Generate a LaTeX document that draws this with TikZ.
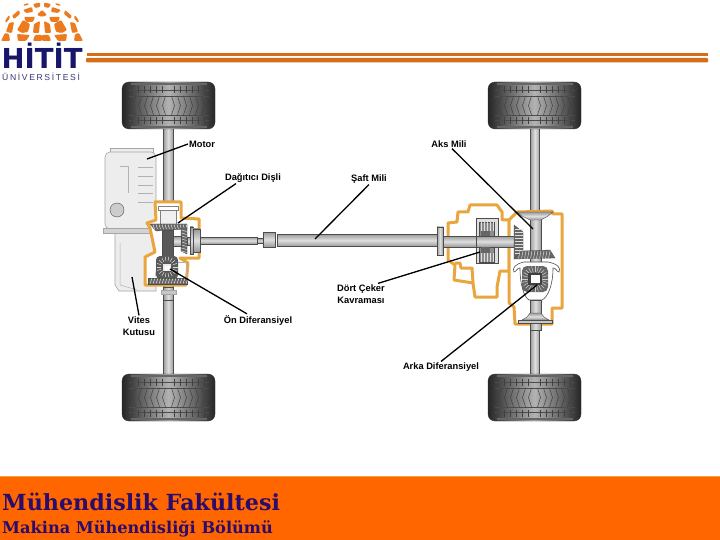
\documentclass[tikz,border=0pt]{standalone}
\usepackage{fontspec}
\newfontfamily\labfont{Liberation Sans}
\newfontfamily\logofont{DejaVu Sans}
\newfontfamily\footfont{DejaVu Serif}
\newfontfamily\spacedfont[LetterSpace=19]{Liberation Sans}
\usepackage{tikz}
\usetikzlibrary{calc}
\definecolor{housingcol}{HTML}{E9A63F}
\definecolor{logocol}{HTML}{EC7A1E}
\definecolor{navycol}{HTML}{17166B}
\definecolor{footcol}{HTML}{FF6600}
\definecolor{foottext}{HTML}{2B0B6B}
\begin{document}
\begin{tikzpicture}[x=1pt,y=-1pt,
   tire/.style={rounded corners=7pt,minimum width=93pt,minimum height=47pt,inner sep=0pt,draw=gray!40!black,left color=black!85,right color=black!85,middle color=black!30},
   lab/.style={font=\labfont\bfseries\fontsize{9.3}{12}\selectfont,align=center,inner sep=1pt},
   leader/.style={line width=1.3pt,black},
   housing/.style={draw=housingcol,line width=3pt,fill=white,line join=round},
   axle/.style={draw=gray!60!black,line width=.4pt,left color=gray!75,right color=gray!75,middle color=gray!25},
   shaft/.style={draw=gray!60!black,line width=.4pt,top color=gray!80,bottom color=gray!80,middle color=gray!25},
   body/.style={draw=gray!70,line width=.6pt,fill=gray!14},
   gear/.style={draw=black!70,line width=.3pt,fill=black!60},
   tooth/.style={gray!25,line width=.5pt},
   petal/.style={fill=logocol,rounded corners=1pt}]
  \useasboundingbox (0,0) rectangle (720,540);
  \fill[white] (0,0) rectangle (720,540);
  % logo
  \foreach \mx in {1,-1}{
   \begin{scope}[shift={(42,0)},xscale=\mx]
    \fill[petal] (2,2.5) -- (9,4) -- (7,8) -- (2,7) -- cycle;
    \fill[petal] (10,7) -- (19,10) -- (16,13) -- (9,12) -- cycle;
    \fill[petal] (23,10) -- (30,16) -- (28,19) -- (22,14) -- cycle;
    \fill[petal] (7,17) -- (18,17) -- (16,22) -- (9,22) -- cycle;
    \fill[petal] (0,10) -- (5,15) -- (0,17) -- cycle;
    \fill[petal] (2,21) -- (8,24) -- (9,33) -- (3,33) -- cycle;
    \fill[petal] (12,24) -- (19,20) -- (25,30) -- (20,33) -- (14,32) -- cycle;
    \fill[petal] (28,22) -- (33,23) -- (36,32) -- (30,33) -- cycle;
    \fill[petal] (12,35) -- (25,34) -- (24,41) -- (16,41) -- cycle;
    \fill[petal] (0,35) -- (7,35) -- (9,41) -- (0,41) -- cycle;
    \fill[petal] (33,34) -- (37,33) -- (41,41) -- (32,41) -- cycle;
    \fill[petal] (14,3) -- (19,5) -- (18,6) -- (13,4.5) -- cycle;
    \fill[petal] (33,15) -- (37,21) -- (36,23) -- (32,18) -- cycle;
   \end{scope}}
  \node[font=\logofont\bfseries\fontsize{27.5}{30}\selectfont,text=navycol,inner sep=0pt,anchor=base west] (logoname) at (1.5,69) {HİTİT};
  \node[font=\spacedfont\fontsize{8.6}{10}\selectfont,text=navycol!70!gray,inner sep=0pt,anchor=base west] (logosub) at (2,81) {ÜNİVERSİTESİ};
  \fill[logocol!90!black] (87,53.5) rectangle (708,55.8);
  \fill[logocol!90!black,rounded corners=1pt] (86,58) rectangle (708,62.5);
  % axles and tires
  \draw[axle] (530.5,125) rectangle (539.5,378);
  \draw[axle] (163.5,125) rectangle (173,378);
  \foreach \tx/\ty/\tname in {168.5/105.5/FL,534.5/105.5/RL,168.5/397.5/FR,534.5/397.5/RR}{
   \node[tire] (tire\tname) at (\tx,\ty) {};
   \begin{scope}[shift={(\tx,\ty)}]
    \foreach \ry in {-15,-9.5,9.5,15} \draw[black!70,line width=.4pt] (-40,\ry) -- (40,\ry);
    \foreach \ry in {-21.5,21.5} \draw[black!60,line width=1.6pt] (-38,\ry) -- (38,\ry);
    \foreach \sg in {1,-1}{
     \foreach \dx in {6,12,...,36}{
      \draw[black!75,line width=.5pt] (\sg*\dx-\sg*3,-9.5) -- (\sg*\dx,0) -- (\sg*\dx-\sg*3,9.5);
      \draw[black!75,line width=.5pt] (\sg*\dx,-19) -- (\sg*\dx,-12);
      \draw[black!75,line width=.5pt] (\sg*\dx,12) -- (\sg*\dx,19);
     }}
   \end{scope}
  }
  % engine and gearbox
  \draw[body] (110,148) rectangle (153,153);
  \draw[body,rounded corners=5pt] (105,152) rectangle (156,229);
  \draw[body] (115,232) -- (156,232) -- (156,291) -- (119,291) -- (115,285) -- cycle;
  \draw[body,fill=gray!35] (103,228) rectangle (156,233);
  \foreach \ky in {167,176,185,193,202} \draw[gray!60,line width=.5pt] (138,\ky) -- (153,\ky);
  \draw[gray!60,line width=.5pt] (120,166) -- (128,166) -- (128,193);
  \draw[gray!60!black,fill=gray!40] (117,210) circle (7);
  \draw[gray!60,line width=.5pt] (120,243) -- (120,285) -- (137,290);
  % propeller shaft
  \draw[shaft] (200,237) rectangle (257,244);
  \draw[shaft] (257,238.5) rectangle (263,243);
  \draw[shaft] (263,232) rectangle (275,247);
  \draw[shaft] (277,234) rectangle (438,246.5);
  % front housing
  \draw[housing] (155,202) -- (181,202) -- (181,218) -- (199,219) -- (199,258) -- (180,258) -- (188,263) -- (186,285) -- (145,285) -- (145,257) -- (155,252) -- (150,228) -- (147,223) -- (156,220) -- cycle;
  \draw[axle] (163.5,287) rectangle (173,300);
  \draw[body,fill=gray!45] (161,290) rectangle (176,294);
  \draw[body,fill=white,draw=gray] (158,206) rectangle (178,210);
  \draw[body,fill=gray!12,draw=gray] (160,210) rectangle (176,224);
  \draw[gear,fill=black!65] (162,230) rectangle (173,258);
  \draw[gear] (150,224) -- (187,224) -- (187,229) -- (156,231) -- cycle;
  \foreach \gx in {153,156,...,186} \draw[tooth] (\gx,224.5) -- (\gx+1.5,229);
  \draw[gear] (181,228) -- (187,228) -- (187,254) -- (181,251) -- cycle;
  \foreach \gy in {230,233,...,251} \draw[tooth] (181.5,\gy) -- (186.5,\gy+1.5);
  \draw[shaft] (173,236) rectangle (181,246);
  \draw[shaft] (187,237) rectangle (190,245);
  \draw[shaft] (190,227) rectangle (193,254);
  \draw[shaft] (193,229) rectangle (200,252);
  \draw[gray!60,line width=.5pt] (157,265) -- (155,277);
  \draw[gray!60,line width=.5pt] (176,262) -- (186,262) -- (186,278);
  \fill[black!65,rounded corners=4pt] (156,256) rectangle (178,279);
  \foreach \da in {0,20,...,340} \draw[gray!30,line width=.5pt] ($(167,267)+(\da:6)$) -- ($(167,267)+(\da:10.5)$);
  \fill[gray!15] (163,264) rectangle (171,271);
  \fill[white] (165,265.5) rectangle (169.5,270);
  \draw[gear] (148,278) rectangle (187,284);
  \foreach \gx in {150,153,...,186} \draw[tooth] (\gx,283.5) -- (\gx+2,278.5);
  % rear housing
  \draw[housing] (509,220) -- (502,220) -- (502,212) -- (497,205) -- (470,205) -- (468,212) -- (458,212) -- (457,222) -- (448,223) -- (448,260) -- (455,265) -- (454,280) -- (473,283) -- (475,297) -- (497,297) -- (497,287) -- (500,271) -- (509,271) -- cycle;
  \draw[housing,fill=none] (455,263) -- (460,263) -- (461,268) -- (472,268) -- (473,283);
  \draw[housing] (517,212) -- (552,211) -- (553,214) -- (562,214) -- (562,308) -- (552,308) -- (552,324) -- (515,324) -- (514,307) -- (509,303) -- (509,220) -- cycle;
  \draw[axle] (437,227) rectangle (443,255);
  \draw[shaft] (443,236) rectangle (476,247);
  \draw[body,fill=gray!25,draw=gray!60!black] (476,218) rectangle (498,263);
  \draw[gear,fill=black!45] (479,222) rectangle (494,237);
  \draw[gear,fill=black!45] (479,247) rectangle (494,262);
  \foreach \gx in {481,484,...,493}{
   \draw[tooth] (\gx,222.5) -- (\gx,231);
   \draw[tooth] (\gx,253) -- (\gx,261.5);}
  \draw[shaft] (476,236) rectangle (516,247);
  \fill[black!60] (481,231) rectangle (490,236);
  \fill[black!60] (481,247) rectangle (490,253);
  \draw[axle] (530,218) rectangle (541,330);
  \draw[shaft] (517,212) -- (553,212) -- (548,216) -- (541,220) -- (530,220) -- (522,216) -- cycle;
  \draw[gear] (514,225) -- (523,232) -- (523,253) -- (514,259) -- cycle;
  \foreach \gy in {229,232,...,254} \draw[tooth] (514.5,\gy) -- (522.5,\gy);
  \draw[gear] (522,251) -- (550,250) -- (555,258) -- (514,259) -- cycle;
  \foreach \gx in {520,523,...,551} \draw[tooth] (\gx,251) -- (\gx-1.5,258.5);
  \draw[black!70,line width=.6pt,fill=white] (524,262) .. controls (515,264) and (512,268) .. (514,272) .. controls (516,272) and (518,267) .. (520,268) .. controls (520,285) and (524,297) .. (529,300) -- (542,300) .. controls (548,297) and (553,285) .. (553,268) .. controls (555,267) and (557,272) .. (559,272) .. controls (561,268) and (558,264) .. (548,262) -- cycle;
  \draw[axle] (530,300) rectangle (541,314);
  \fill[black!60,rounded corners=5pt] (522,266) rectangle (548,292);
  \foreach \da in {0,15,...,345} \draw[gray!40,line width=.5pt] ($(535,279)+(\da:7)$) -- ($(535,279)+(\da:13)$);
  \fill[black!75] (528,273) rectangle (542,285);
  \fill[white] (530.5,275) rectangle (540,283);
  \draw[shaft] (530,313) -- (541,313) -- (544,317) -- (549,320) -- (522,320) -- (527,317) -- cycle;
  \draw[shaft] (518,320) rectangle (552,323);
  % labels
  \node[lab,anchor=west] (labMotor) at (188,144) {Motor};
  \node[lab] (labDagitici) at (253,178) {Dağıtıcı Dişli};
  \node[lab] (labSaft) at (369,179) {Şaft Mili};
  \node[lab] (labAks) at (449,144) {Aks Mili};
  \node[lab] (labDort) at (361,294) {Dört Çeker\\Kavraması};
  \node[lab] (labVites) at (139,326) {Vites\\Kutusu};
  \node[lab] (labOn) at (258,320) {Ön Diferansiyel};
  \node[lab] (labArka) at (441,367) {Arka Diferansiyel};
  \coordinate (ptMotor) at (147,159);
  \coordinate (ptDagitici) at (178,223);
  \coordinate (ptSaft) at (315,239);
  \coordinate (ptAks) at (533,229);
  \coordinate (ptDort) at (480,252);
  \coordinate (ptVites) at (132,277);
  \coordinate (ptOn) at (170,269);
  \coordinate (ptArka) at (537,285);
  \draw[leader] (labMotor.west) -- (ptMotor);
  \draw[leader] ([xshift=-17pt]labDagitici.south) -- (ptDagitici);
  \draw[leader] (labSaft.south) -- (ptSaft);
  \draw[leader] ([xshift=3pt]labAks.south) -- (ptAks);
  \draw[leader] ([xshift=17pt]labDort.north) -- (ptDort);
  \draw[leader] (labVites.north) -- (ptVites);
  \draw[leader] ([xshift=-11pt]labOn.north) -- (ptOn);
  \draw[leader] (labArka.north) -- (ptArka);
  % footer
  \fill[footcol] (0,476) rectangle (720,540);
  \draw[housingcol,line width=.6pt] (0,476) -- (720,476);
  \node[font=\footfont\bfseries\fontsize{22.2}{24}\selectfont,text=foottext,inner sep=0pt,anchor=base west] (facname) at (2,510) {Mühendislik Fakültesi};
  \node[font=\footfont\bfseries\fontsize{16.2}{18}\selectfont,text=foottext,inner sep=0pt,anchor=base west] (deptname) at (2,533) {Makina Mühendisliği Bölümü};
 \end{tikzpicture}
\end{document}
